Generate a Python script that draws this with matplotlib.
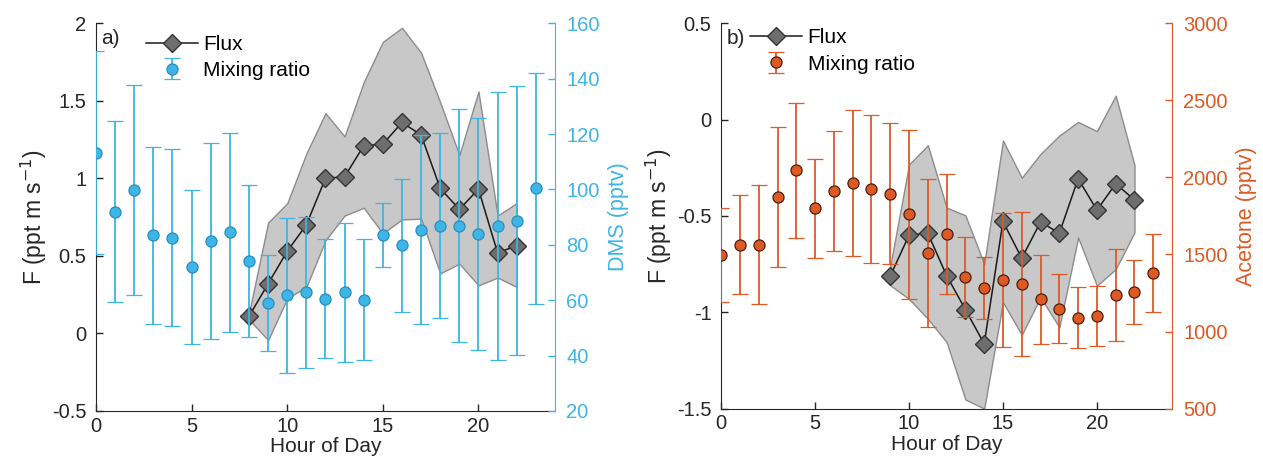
import matplotlib
matplotlib.use("Agg")
import matplotlib.pyplot as plt
import numpy as np

plt.rcParams['font.family'] = ['Liberation Sans', 'DejaVu Sans']

# ---------------- Panel a) DMS ----------------
hours_all = list(range(24))
flux_hours_a = list(range(8, 23))
flux_a = [0.11, 0.32, 0.53, 0.70, 1.00, 1.01, 1.21, 1.22, 1.36, 1.28, 0.935, 0.80, 0.93, 0.52, 0.565]
flux_a_upper = [0.13, 0.714, 0.839, 1.16, 1.42, 1.27, 1.62, 1.88, 1.97, 1.81, 1.49, 1.15, 1.56, 0.76, 0.84]
flux_a_lower = [0.09, -0.043, 0.226, 0.30, 0.60, 0.76, 0.81, 0.645, 0.735, 0.74, 0.387, 0.45, 0.31, 0.36, 0.30]
dms = [113.3, 91.9, 99.8, 83.4, 82.5, 72.0, 81.4, 84.5, 74.2, 59.0, 61.8, 62.8,
       60.6, 62.8, 60.2, 83.4, 79.9, 85.5, 86.9, 86.9, 83.9, 86.9, 88.7, 100.4]
dms_err = [36.5, 32.7, 38.0, 32.0, 32.0, 27.7, 35.3, 36.0, 27.4, 17.3, 28.0, 27.2,
           21.4, 25.2, 21.8, 11.6, 24.0, 34.0, 33.4, 42.0, 42.0, 48.4, 48.6, 41.6]

# ---------------- Panel b) Acetone ----------------
flux_hours_b = list(range(9, 23))
flux_b = [-0.812, -0.60, -0.59, -0.81, -0.986, -1.164, -0.529, -0.72, -0.531, -0.59, -0.307, -0.47, -0.333, -0.417]
flux_b_upper = [-0.76, -0.233, -0.133, -0.457, -0.497, -0.75, -0.109, -0.302, -0.178, -0.083, -0.012, -0.06, 0.124, -0.236]
flux_b_lower = [-0.86, -0.931, -1.034, -1.155, -1.453, -1.50, -0.948, -1.117, -0.922, -1.078, -0.612, -0.862, -0.776, -0.586]
acetone = [1494, 1563, 1563, 1872, 2045, 1801, 1911, 1965, 1926, 1894, 1760, 1511,
           1635, 1354, 1284, 1336, 1306, 1209, 1148, 1088, 1101, 1235, 1256, 1380]
acetone_err = [305, 322, 386, 456, 440, 321, 387, 473, 481, 456, 549, 479,
               389, 260, 200, 435, 468, 289, 224, 198, 195, 298, 206, 251]

x_ticks = [0, 5, 10, 15, 20]
a_left_ticks = [-0.5, 0, 0.5, 1, 1.5, 2]
a_left_labels = ['-0.5', '0', '0.5', '1', '1.5', '2']
a_right_ticks = [20, 40, 60, 80, 100, 120, 140, 160]
b_left_ticks = [-1.5, -1, -0.5, 0, 0.5]
b_left_labels = ['-1.5', '-1', '-0.5', '0', '0.5']
b_right_ticks = [500, 1000, 1500, 2000, 2500, 3000]

BLUE = '#3DB5E6'
ORANGE = '#DD5A24'
DARK = '#262626'
FILL = '#C8C8C8'
FILL_EDGE = '#8C8C8C'
DIAMOND = '#6E6E6E'

fig = plt.figure(figsize=(12.63, 4.74), dpi=100)

FS = 14.5


def style_axes(ax, ax2, rcolor):
    for a in (ax, ax2):
        a.spines['top'].set_visible(False)
    ax.spines['right'].set_visible(False)
    ax2.spines['left'].set_visible(False)
    ax2.spines['bottom'].set_visible(False)
    ax.spines['left'].set_color(DARK)
    ax.spines['bottom'].set_color(DARK)
    ax2.spines['right'].set_color(rcolor)
    ax.tick_params(axis='both', direction='in', length=5, colors=DARK, labelsize=FS, width=1)
    ax.tick_params(axis='x', pad=4)
    ax.tick_params(axis='y', pad=7)
    ax2.tick_params(axis='y', direction='in', length=5, colors=rcolor, labelsize=FS, width=1, pad=8)
    ax.set_xlim(0, 24)
    ax.set_xticks(x_ticks)
    ax.set_xticklabels([str(t) for t in x_ticks])
    ax.set_xlabel('Hour of Day', fontsize=15, color=DARK, labelpad=1)


def panel(rect, fh, fl, fu, flo, ymin, ymax, lt, ll, rvals, rerr, rmin, rmax, rt, rcolor, rlabel, tag, leg_anchor):
    ax = fig.add_axes(rect)
    ax2 = ax.twinx()
    ax.fill_between(fh, flo, fu, facecolor=FILL, edgecolor=FILL_EDGE, linewidth=1.0, zorder=1)
    ax.plot(fh, fl, color='#1a1a1a', lw=1.1, marker='D', markersize=9,
            markerfacecolor=DIAMOND, markeredgecolor='#333333', markeredgewidth=1.0, zorder=3,
            label='Flux')
    ax.set_ylim(ymin, ymax)
    ax.set_yticks(lt)
    ax.set_yticklabels(ll)
    ax.set_ylabel('F (ppt m s$^{-1}$)', fontsize=16.5, color=DARK, labelpad=2)
    if rcolor == BLUE:
        edge = '#2a8fbd'
    else:
        edge = '#4a2010'
    ax2.errorbar(hours_all, rvals, yerr=rerr, fmt='o', color=rcolor, ecolor=rcolor,
                 elinewidth=1.3, capsize=6, capthick=1.3, markersize=8,
                 markerfacecolor=rcolor, markeredgecolor=edge, markeredgewidth=0.9,
                 label='Mixing ratio')
    ax2.set_ylim(rmin, rmax)
    ax2.set_yticks(rt)
    ax2.set_yticklabels([str(t) for t in rt])
    ax2.set_ylabel(rlabel, fontsize=15.5, color=rcolor, labelpad=6)
    style_axes(ax, ax2, rcolor)
    ax.text(0.012, 0.985, tag, transform=ax.transAxes, fontsize=15, color=DARK, va='top', ha='left')
    h1, l1 = ax.get_legend_handles_labels()
    h2, l2 = ax2.get_legend_handles_labels()
    ax2.legend(h1 + h2, l1 + l2, loc='upper left', bbox_to_anchor=leg_anchor,
               bbox_transform=fig.transFigure, frameon=False, fontsize=15,
               handlelength=2.5, handletextpad=0.25, labelspacing=0.35, borderaxespad=0)
    return ax, ax2


panel([0.076, 0.133, 0.3634, 0.818], flux_hours_a, flux_a, flux_a_upper, flux_a_lower,
      -0.5, 2, a_left_ticks, a_left_labels, dms, dms_err, 20, 160, a_right_ticks, BLUE,
      'DMS (pptv)', 'a)', (0.109, 0.944))

panel([0.571, 0.138, 0.357, 0.813], flux_hours_b, flux_b, flux_b_upper, flux_b_lower,
      -1.5, 0.5, b_left_ticks, b_left_labels, acetone, acetone_err, 500, 3000, b_right_ticks, ORANGE,
      'Acetone (pptv)', 'b)', (0.5875, 0.958))

fig.savefig('out.png', dpi=100)
